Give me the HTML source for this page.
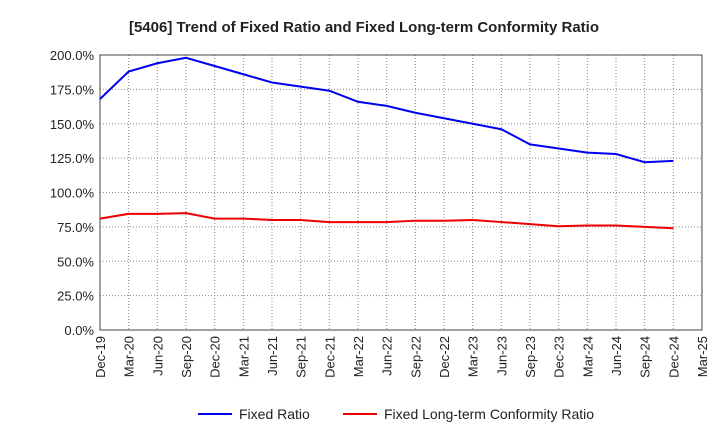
<!DOCTYPE html>
<html><head><meta charset="utf-8"><style>
body{margin:0;background:#fff;font-family:"Liberation Sans",Arial,sans-serif;}
svg text{font-family:"Liberation Sans",Arial,sans-serif;}
</style></head><body>
<svg id="chart" width="720" height="440" xmlns="http://www.w3.org/2000/svg">
<rect width="720" height="440" fill="#fff"/>
<text x="364" y="32" text-anchor="middle" font-size="15" font-weight="bold" fill="#222">[5406]  Trend of Fixed Ratio and Fixed Long-term Conformity Ratio</text>
<g id="grid"></g><g id="axes"></g><g id="series"></g>
<g>
<line x1="198" y1="414" x2="232" y2="414" stroke="#0000ee" stroke-width="2"/>
<text x="239" y="419" font-size="14" fill="#222">Fixed Ratio</text>
<line x1="343" y1="414" x2="377" y2="414" stroke="#ee0000" stroke-width="2"/>
<text x="384" y="419" font-size="14" fill="#222">Fixed Long-term Conformity Ratio</text>
</g>
</svg>
<script>
const categories=["Dec-19","Mar-20","Jun-20","Sep-20","Dec-20","Mar-21","Jun-21","Sep-21","Dec-21","Mar-22","Jun-22","Sep-22","Dec-22","Mar-23","Jun-23","Sep-23","Dec-23","Mar-24","Jun-24","Sep-24","Dec-24","Mar-25"];
const fixedRatio=[168,188,194,198,192,186,180,177,174,166,163,158,154,150,146,135,132,129,128,122,123];
const conformityRatio=[81,84.5,84.5,85,81,81,80,80,78.5,78.5,78.5,79.5,79.5,80,78.5,77,75.5,76,76,75,74];
const yTicks=[0,25,50,75,100,125,150,175,200];
const NS="http://www.w3.org/2000/svg";
const L=100,R=702,T=55,B=330;
const x=i=>L+i*(R-L)/(categories.length-1);
const y=v=>B-(v/200)*(B-T);
function mk(tag,attrs,parent){const e=document.createElementNS(NS,tag);for(const k in attrs)e.setAttribute(k,attrs[k]);parent.appendChild(e);return e;}
const grid=document.getElementById('grid'),axes=document.getElementById('axes'),series=document.getElementById('series');
yTicks.forEach(v=>{
 const g=mk('line',{x1:L,x2:R,y1:y(v),y2:y(v),stroke:'#888','stroke-dasharray':'1,2','stroke-width':1},grid);
 
 
 const t=mk('text',{x:L-6,y:y(v)+5,'text-anchor':'end','font-size':13,fill:'#222'},axes);
 t.textContent=v.toFixed(1)+'%';
 
 
});
categories.forEach((c,i)=>{
 const g=mk('line',{x1:x(i),x2:x(i),y1:T,y2:B,stroke:'#888','stroke-dasharray':'1,2','stroke-width':1},grid);
 
 
 const t=mk('text',{x:0,y:0,'text-anchor':'end','font-size':13,fill:'#222',transform:`translate(${x(i)+5},${B+6}) rotate(-90)`},axes);
 t.textContent=c;
 
 
});
const frame=mk('rect',{x:L,y:T,width:R-L,height:B-T,fill:'none',stroke:'#444'},axes);


function line(data,color,name){
 const p=mk('polyline',{points:data.map((v,i)=>x(i)+','+y(v)).join(' '),fill:'none',stroke:color,'stroke-width':2},series);
 
 
}
line(fixedRatio,'#0000ee','fixed-ratio-line');
line(conformityRatio,'#ee0000','conformity-ratio-line');
</script>
</body></html>
